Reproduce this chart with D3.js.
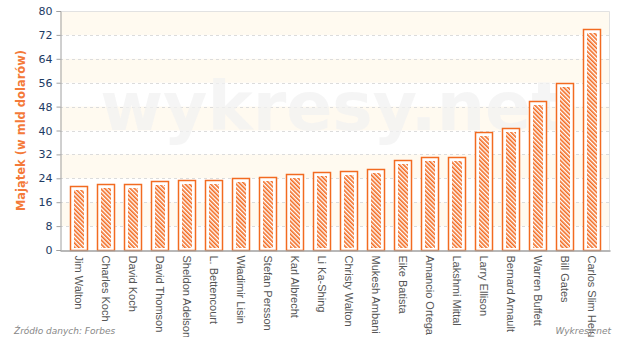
<!DOCTYPE html>
<html>
<head>
<meta charset="utf-8">
<script src="https://cdn.jsdelivr.net/npm/d3@7"></script>
<style>
  body { margin: 0; background: #fff; }
  svg { display: block; font-family: Verdana, "DejaVu Sans", sans-serif; }
</style>
</head>
<body>
<div id="viz"></div>
<script>
(function billionaires() {
  const svgWidth = 620;
  const svgHeight = 337;
  const margin = { top: 11, right: 10, bottom: 87, left: 60 };

  const orangeColor = '#f26b21';
  const axisColor = '#a0a0a0';
  const tickTextColor = '#1d3b64';
  const labelColor = '#555555';
  const bandColor = '#fffaf0';

  // Forbes, mld USD
  const names = [
    'Jim Walton', 'Charles Koch', 'David Koch', 'David Thomson', 'Sheldon Adelson',
    'L. Bettencourt', 'Władimir Lisin', 'Stefan Persson', 'Karl Albrecht', 'Li Ka-Shing',
    'Christy Walton', 'Mukesh Ambani', 'Eike Batista', 'Amancio Ortega', 'Lakshmi Mittal',
    'Larry Ellison', 'Bernard Arnault', 'Warren Buffett', 'Bill Gates', 'Carlos Slim Helu',
  ];
  const wealth = [21.3, 22, 22, 23, 23.3, 23.5, 24, 24.5, 25.5, 26, 26.5, 27, 30, 31, 31.1, 39.5, 41, 50, 56, 74];
  const yTicks = [0, 8, 16, 24, 32, 40, 48, 56, 64, 72, 80];

  const data = names.map((n, i) => ({ name: n, value: wealth[i] }));

  const x = d3.scaleBand()
    .domain(names)
    .range([margin.left, svgWidth - margin.right])
    .paddingInner(0.37)
    .paddingOuter(0.37);

  const y = d3.scaleLinear()
    .domain([0, 80])
    .range([svgHeight - margin.bottom, margin.top]);

  const svg = d3.select('#viz').append('svg')
    .attr('width', svgWidth)
    .attr('height', svgHeight);

  const defs = svg.append('defs');
  const pattern = defs.append('pattern')
    .attr('id', 'hatch')
    .attr('patternUnits', 'userSpaceOnUse')
    .attr('width', 3)
    .attr('height', 3)
    .attr('patternTransform', 'rotate(-45)');
  pattern.append('rect').attr('width', 3).attr('height', 3).attr('fill', '#fff');
  pattern.append('rect').attr('width', 1.6).attr('height', 3).attr('fill', orangeColor);

  // alternating bands
  const bands = d3.range(0, yTicks.length - 1).filter(i => i % 2 === 1);
  svg.append('g').selectAll('rect')
    .data(bands)
    .enter()
    .append('rect')
    .attr('x', margin.left)
    .attr('y', i => y(yTicks[i + 1]))
    .attr('width', svgWidth - margin.right - margin.left)
    .attr('height', i => y(yTicks[i]) - y(yTicks[i + 1]))
    .attr('fill', bandColor);

  // grid
  svg.append('g').selectAll('line')
    .data(yTicks.slice(1, -1))
    .enter()
    .append('line')
    .attr('x1', margin.left)
    .attr('x2', svgWidth - margin.right)
    .attr('y1', d => Math.round(y(d)) + 0.5)
    .attr('y2', d => Math.round(y(d)) + 0.5)
    .attr('stroke', '#dcdcdc')
    .attr('stroke-dasharray', '3,3');

  // frame
  svg.append('path')
    .attr('d', `M${margin.left},${y(80) + 0.5}H${svgWidth - margin.right - 0.5}V${y(0)}`)
    .attr('fill', 'none')
    .attr('stroke', '#e2e2e2');

  // watermark
  svg.append('text')
    .attr('x', 332)
    .attr('y', 130)
    .attr('text-anchor', 'middle')
    .style('font-size', '68px')
    .style('font-weight', 'bold')
    .style('fill', '#f2f2f2')
    .style('fill-opacity', 0.75)
    .text('wykresy.net');

  // bars
  const bars = svg.append('g').selectAll('g')
    .data(data)
    .enter()
    .append('g');

  bars.append('rect')
    .attr('x', d => Math.round(x(d.name)) + 0.5)
    .attr('y', d => Math.round(y(d.value)) + 0.5)
    .attr('width', Math.round(x.bandwidth()))
    .attr('height', d => Math.round(y(0)) - Math.round(y(d.value)))
    .attr('fill', '#fff')
    .attr('stroke', orangeColor)
    .attr('stroke-width', 1.5);

  bars.append('rect')
    .attr('x', d => Math.round(x(d.name)) + 4)
    .attr('y', d => Math.round(y(d.value)) + 4)
    .attr('width', Math.round(x.bandwidth()) - 7)
    .attr('height', d => Math.round(y(0)) - Math.round(y(d.value)) - 6)
    .attr('fill', 'url(#hatch)');

  // y axis
  const yAxis = svg.append('g')
    .attr('transform', `translate(${margin.left + 0.5},0)`)
    .call(d3.axisLeft(y).tickValues(yTicks).tickSize(4).tickPadding(4));
  yAxis.select('.domain').attr('stroke', axisColor);
  yAxis.selectAll('.tick line').attr('stroke', axisColor);
  yAxis.selectAll('.tick text')
    .style('font-size', '11px')
    .style('font-family', 'Verdana, "DejaVu Sans", sans-serif')
    .attr('fill', tickTextColor);

  // x axis
  const xAxis = svg.append('g')
    .attr('transform', `translate(0,${y(0) + 0.5})`)
    .call(d3.axisBottom(x).tickSize(0).tickPadding(0));
  xAxis.select('.domain').attr('stroke', axisColor).attr('stroke-width', 1.5);
  xAxis.selectAll('.tick text')
    .attr('transform', 'rotate(90)')
    .attr('x', 5)
    .attr('y', 0)
    .attr('dy', '0.35em')
    .style('text-anchor', 'start')
    .style('font-size', '11px')
    .style('font-family', '"Liberation Sans", Arial, sans-serif')
    .attr('fill', labelColor);

  // y title
  svg.append('text')
    .attr('transform', `translate(25,${(y(0) + y(80)) / 2}) rotate(-90)`)
    .attr('text-anchor', 'middle')
    .style('font-size', '11.5px')
    .style('font-weight', 'bold')
    .style('fill', '#f47a3a')
    .text('Majątek (w mld dolarów)');

  // footer
  svg.append('text')
    .attr('x', 14)
    .attr('y', 334)
    .style('font-size', '9px')
    .style('font-style', 'italic')
    .style('fill', '#888')
    .text('Źródło danych: Forbes');

  svg.append('text')
    .attr('x', 611)
    .attr('y', 334)
    .attr('text-anchor', 'end')
    .style('font-size', '9px')
    .style('font-style', 'italic')
    .style('fill', '#888')
    .text('Wykresy.net');
}());
</script>
</body>
</html>
